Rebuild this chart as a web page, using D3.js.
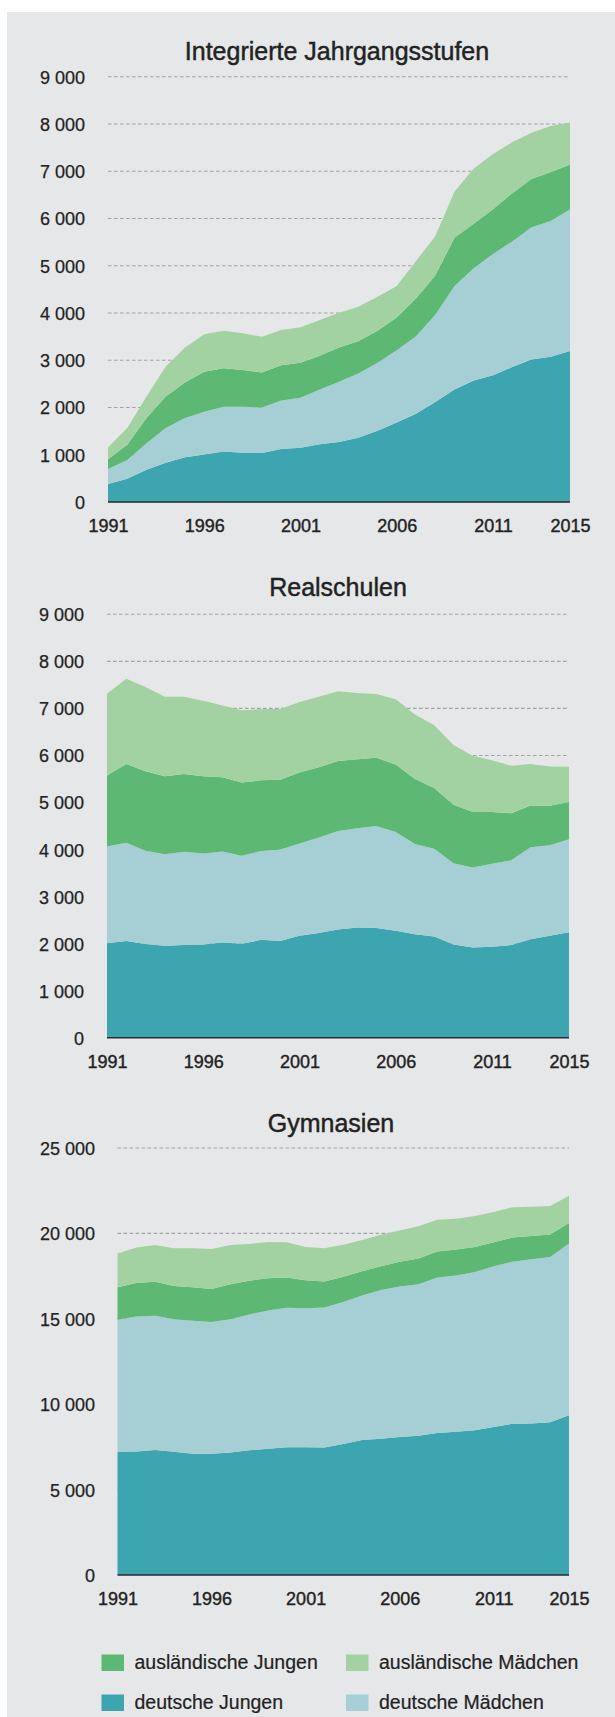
<!DOCTYPE html>
<html>
<head>
<meta charset="utf-8">
<script src="https://cdn.jsdelivr.net/npm/d3@7"></script>
<style>
  html, body { margin: 0; padding: 0; background: #ffffff; }
  svg { display: block; }
  text { font-family: "Liberation Sans", Arial, Helvetica, sans-serif; fill: #222222; }
</style>
</head>
<body>
<svg id="chart" width="615" height="1717"></svg>
<script>
// ---------- data ----------
const years = d3.range(1991, 2016);
const yearTicks = [1991, 1996, 2001, 2006, 2011, 2015];
const seriesNames = ["deutsche Jungen", "deutsche Mädchen", "ausländische Jungen", "ausländische Mädchen"];
const seriesColors = ["#3da5b0", "#a5cfd5", "#5cb872", "#a3d2a2"];

// Integrierte Jahrgangsstufen
const igsTitle = "Integrierte Jahrgangsstufen";
const igsTicks = [0, 1000, 2000, 3000, 4000, 5000, 6000, 7000, 8000, 9000];
const igsDeutscheJungen = [380,490,680,830,945,1005,1070,1040,1035,1120,1150,1220,1270,1360,1510,1680,1865,2115,2380,2570,2680,2855,3015,3075,3195];
const igsDeutscheMaedchen = [320,400,565,735,830,905,945,975,965,1030,1055,1160,1275,1360,1435,1530,1645,1850,2190,2375,2570,2660,2800,2870,3000];
const igsAuslJungen = [205,320,530,665,755,845,815,780,740,745,740,715,725,680,680,695,795,830,1020,945,945,1020,1020,1040,940];
const igsAuslMaedchen = [250,355,455,640,740,795,795,775,755,745,755,755,735,730,720,665,795,830,980,1170,1170,1080,980,970,895];

// Realschulen
const rsTitle = "Realschulen";
const rsTicks = [0, 1000, 2000, 3000, 4000, 5000, 6000, 7000, 8000, 9000];
const rsDeutscheJungen = [2010,2055,1990,1955,1970,1980,2025,1995,2080,2055,2165,2225,2300,2345,2330,2275,2200,2150,1980,1920,1935,1970,2095,2165,2240];
const rsDeutscheMaedchen = [2055,2090,1985,1945,1985,1935,1935,1875,1890,1945,1965,2030,2095,2105,2170,2095,1915,1865,1730,1700,1760,1800,1955,1925,1980];
const rsAuslJungen = [1510,1675,1690,1660,1650,1645,1575,1555,1500,1485,1505,1495,1485,1470,1450,1435,1385,1295,1240,1180,1105,1000,885,840,790];
const rsAuslMaedchen = [1735,1810,1790,1690,1640,1600,1525,1535,1515,1500,1500,1500,1485,1405,1355,1390,1370,1330,1270,1195,1100,1010,885,835,750];

// Gymnasien
const gymTitle = "Gymnasien";
const gymTicks = [0, 5000, 10000, 15000, 20000, 25000];
const gymDeutscheJungen = [7210,7230,7325,7210,7095,7095,7165,7300,7395,7485,7485,7465,7670,7900,7970,8085,8155,8320,8385,8480,8665,8850,8870,8940,9360];
const gymDeutscheMaedchen = [7740,7905,7855,7760,7785,7715,7805,7950,8085,8155,8135,8200,8320,8460,8710,8805,8875,9100,9150,9265,9405,9495,9615,9680,10050];
const gymAuslJungen = [1895,1965,1985,1945,1965,1940,2060,1985,1895,1780,1640,1525,1475,1430,1390,1455,1500,1525,1525,1455,1410,1410,1360,1320,1200];
const gymAuslMaedchen = [1985,2080,2150,2215,2285,2335,2285,2150,2125,2060,1940,1940,1875,1825,1845,1825,1895,1850,1805,1825,1775,1780,1710,1665,1595];

// legend layout order (row-major)
const legendOrder = [2, 3, 0, 1];

// ---------- drawing ----------
const svg = d3.select("#chart");
svg.append("rect").attr("x", 7).attr("y", 12).attr("width", 608).attr("height", 1705).attr("fill", "#e6e7e9");

const fmt = v => d3.format(",")(v).replace(/,/g, " ");

function drawChart(cfg) {
  const { title, ticks, series, x0, x1, yBase, yTop, titleX, titleY, labelRight } = cfg;
  const x = d3.scaleLinear().domain([1991, 2015]).range([x0, x1]);
  const y = d3.scaleLinear().domain([0, d3.max(ticks)]).range([yBase, yTop]);

  const rows = years.map((yr, i) => {
    const r = { year: yr };
    seriesNames.forEach((n, k) => r[n] = series[k][i]);
    return r;
  });
  const stacked = d3.stack().keys(seriesNames)(rows);

  const g = svg.append("g");

  // title
  g.append("text").attr("x", titleX).attr("y", titleY)
    .attr("text-anchor", "middle")
    .style("font-size", "25px")
    .style("stroke", "#222").style("stroke-width", "0.45px")
    .text(title);

  // gridlines + y tick labels via axis
  const yAxis = d3.axisLeft(y).tickValues(ticks).tickFormat(fmt).tickSize(0).tickPadding(0);
  const ya = g.append("g").attr("transform", `translate(${labelRight},0)`).call(yAxis);
  ya.select(".domain").remove();
  ya.selectAll("text").style("font-size", "18px").style("font-family", '"Liberation Sans", Arial, sans-serif')
    .style("stroke", "#222").style("stroke-width", "0.25px")
    .attr("fill", "#222").attr("dy", "0.36em");

  g.append("g").selectAll("line").data(ticks.filter(t => t > 0)).join("line")
    .attr("x1", x0).attr("x2", x1)
    .attr("y1", d => y(d)).attr("y2", d => y(d))
    .attr("stroke", "#a3a4a6").attr("stroke-width", 1.1)
    .attr("stroke-dasharray", "3.6,2.4");

  // areas
  const area = d3.area().x(d => x(d.data.year)).y0(d => y(d[0])).y1(d => y(d[1]));
  g.append("g").selectAll("path").data(stacked).join("path")
    .attr("d", area)
    .attr("fill", (d, i) => seriesColors[i]);

  // baseline
  g.append("line").attr("x1", x0).attr("x2", x1).attr("y1", yBase).attr("y2", yBase)
    .attr("stroke", "#2a2a2a").attr("stroke-width", 1.6);

  // x axis labels
  const xAxis = d3.axisBottom(x).tickValues(yearTicks).tickFormat(d3.format("d")).tickSize(0).tickPadding(0);
  const xa = g.append("g").attr("transform", `translate(0,${yBase})`).call(xAxis);
  xa.select(".domain").remove();
  xa.selectAll("text").style("font-size", "18px").style("font-family", '"Liberation Sans", Arial, sans-serif')
    .style("stroke", "#222").style("stroke-width", "0.4px")
    .attr("fill", "#222").attr("dy", null).attr("y", 30);
}

drawChart({
  title: igsTitle, ticks: igsTicks,
  series: [igsDeutscheJungen, igsDeutscheMaedchen, igsAuslJungen, igsAuslMaedchen],
  x0: 108, x1: 570, yBase: 502, yTop: 76.7, titleX: 337, titleY: 60, labelRight: 85
});
drawChart({
  title: rsTitle, ticks: rsTicks,
  series: [rsDeutscheJungen, rsDeutscheMaedchen, rsAuslJungen, rsAuslMaedchen],
  x0: 107, x1: 569, yBase: 1037.7, yTop: 614.3, titleX: 338, titleY: 596, labelRight: 84
});
drawChart({
  title: gymTitle, ticks: gymTicks,
  series: [gymDeutscheJungen, gymDeutscheMaedchen, gymAuslJungen, gymAuslMaedchen],
  x0: 117.5, x1: 569, yBase: 1575, yTop: 1148, titleX: 331, titleY: 1131.5, labelRight: 95
});

// legend
const legend = svg.append("g");
legendOrder.forEach((si, k) => {
  const col = k % 2, row = Math.floor(k / 2);
  const lx = col === 0 ? 101.5 : 346;
  const ly = 1654.5 + row * 40;
  legend.append("rect").attr("x", lx).attr("y", ly).attr("width", 22.5).attr("height", 16.5).attr("fill", seriesColors[si]);
  legend.append("text").attr("x", lx + 33).attr("y", ly + 14.5)
    .style("font-size", "19.5px").style("stroke", "#222").style("stroke-width", "0.2px")
    .text(seriesNames[si]);
});
</script>
</body>
</html>
